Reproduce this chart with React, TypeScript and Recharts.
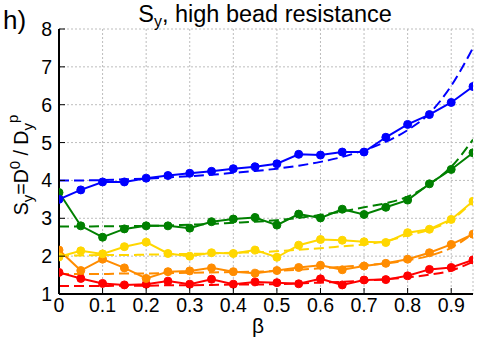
import React from "react";
import { LineChart, Line, XAxis, YAxis, CartesianGrid } from "recharts";

const beta = [0, 0.05, 0.1, 0.15, 0.2, 0.25, 0.3, 0.35, 0.4, 0.45, 0.5, 0.55, 0.6, 0.65, 0.7, 0.75, 0.8, 0.85, 0.9, 0.95];

const blueSim = [3.5, 3.75, 3.96, 3.96, 4.06, 4.13, 4.19, 4.24, 4.31, 4.36, 4.44, 4.69, 4.67, 4.75, 4.75, 5.14, 5.48, 5.74, 6.06, 6.48];
const blueFit = [4.0, 4.0, 4.01, 4.03, 4.05, 4.08, 4.11, 4.15, 4.2, 4.25, 4.31, 4.39, 4.49, 4.62, 4.8, 5.02, 5.33, 5.77, 6.5, 7.5];
const greenSim = [3.68, 2.8, 2.5, 2.72, 2.8, 2.8, 2.74, 2.91, 2.98, 3.02, 2.82, 3.11, 3.01, 3.24, 3.1, 3.29, 3.48, 3.91, 4.29, 4.73];
const greenFit = [2.78, 2.78, 2.79, 2.79, 2.8, 2.81, 2.83, 2.85, 2.88, 2.91, 2.95, 3.01, 3.09, 3.18, 3.29, 3.4, 3.57, 3.9, 4.36, 5.08];
const yellowSim = [1.98, 2.14, 2.06, 2.25, 2.37, 2.07, 2.0, 2.09, 2.07, 2.16, 1.97, 2.29, 2.44, 2.42, 2.38, 2.36, 2.62, 2.71, 2.97, 3.45];
const yellowFit = [2.02, 2.02, 2.03, 2.03, 2.04, 2.05, 2.06, 2.07, 2.09, 2.1, 2.13, 2.17, 2.21, 2.26, 2.31, 2.4, 2.55, 2.7, 2.95, 3.45];
const orangeSim = [2.16, 1.62, 1.92, 1.69, 1.41, 1.59, 1.61, 1.69, 1.59, 1.55, 1.62, 1.7, 1.76, 1.64, 1.74, 1.81, 1.92, 2.09, 2.31, 2.58];
const orangeFit = [1.53, 1.53, 1.53, 1.54, 1.54, 1.55, 1.56, 1.57, 1.58, 1.59, 1.61, 1.64, 1.68, 1.72, 1.76, 1.81, 1.89, 2.01, 2.22, 2.6];
const redSim = [1.57, 1.41, 1.28, 1.24, 1.26, 1.34, 1.26, 1.39, 1.26, 1.32, 1.3, 1.27, 1.4, 1.24, 1.37, 1.38, 1.48, 1.65, 1.7, 1.9];
const redFit = [1.21, 1.21, 1.21, 1.22, 1.22, 1.23, 1.23, 1.24, 1.25, 1.25, 1.26, 1.28, 1.3, 1.32, 1.35, 1.39, 1.44, 1.51, 1.62, 1.85];

const xTicks = [0, 0.1, 0.2, 0.3, 0.4, 0.5, 0.6, 0.7, 0.8, 0.9];
const yTicks = [1, 2, 3, 4, 5, 6, 7, 8];

const series = [
  { key: "red", color: "#ff0000", sim: redSim, fit: redFit },
  { key: "orange", color: "#ff8c00", sim: orangeSim, fit: orangeFit },
  { key: "yellow", color: "#ffd700", sim: yellowSim, fit: yellowFit },
  { key: "green", color: "#008000", sim: greenSim, fit: greenFit },
  { key: "blue", color: "#0000ff", sim: blueSim, fit: blueFit },
];

const data = beta.map((b, i) => {
  const row: any = { beta: b };
  series.forEach((s) => {
    row[s.key + "Sim"] = s.sim[i];
    row[s.key + "Fit"] = s.fit[i];
  });
  return row;
});

const FONT = "'Liberation Sans', Arial, sans-serif";
const TL = 6;

const BottomTick = (p: any) => {
  const { x, y, payload } = p;
  const ay = y - 4;
  return (
    <g>
      <line x1={x} x2={x} y1={ay} y2={ay - TL} stroke="#000" strokeWidth={1} />
      <text x={x} y={y + 14} textAnchor="middle" fontSize={19.5} fontFamily={FONT} fill="#000">
        {payload.value === 0 ? "0" : payload.value.toFixed(1)}
      </text>
    </g>
  );
};

const LeftTick = (p: any) => {
  const { x, y, payload } = p;
  const ax = x + 7;
  return (
    <g>
      <line x1={ax} x2={ax + TL} y1={y} y2={y} stroke="#000" strokeWidth={1} />
      <text x={x} y={y + 7} textAnchor="end" fontSize={19.5} fontFamily={FONT} fill="#000">
        {payload.value}
      </text>
    </g>
  );
};

const RightTick = (p: any) => {
  const { x, y } = p;
  const ax = x - 4;
  return <line x1={ax} x2={ax - TL} y1={y} y2={y} stroke="#000" strokeWidth={1} />;
};

const TopTick = (p: any) => {
  const { x, y } = p;
  const ay = y + 4;
  return <line x1={x} x2={x} y1={ay} y2={ay + TL} stroke="#000" strokeWidth={1} />;
};

export default function App() {
  return (
    <div style={{ position: "absolute", left: 0, top: 0, width: 491, height: 343, background: "#fff" }}>
      <LineChart
        width={491}
        height={343}
        data={data}
        margin={{ top: 29, right: 18, bottom: 19, left: 19 }}
      >
        <CartesianGrid stroke="#bdbdbd" strokeDasharray="2 2" vertical horizontal />
        <XAxis
          dataKey="beta"
          type="number"
          domain={[0, 0.95]}
          ticks={xTicks}
          height={30}
          tickSize={0}
          tickMargin={4}
          tickLine={false}
          axisLine={{ stroke: "#000", strokeWidth: 2 }}
          tick={<BottomTick />}
          interval={0}
          allowDataOverflow
        />
        <XAxis
          xAxisId="top"
          orientation="top"
          dataKey="beta"
          type="number"
          domain={[0, 0.95]}
          ticks={xTicks}
          height={0}
          tickSize={0}
          tickMargin={4}
          tickLine={false}
          axisLine={{ stroke: "#000", strokeWidth: 2 }}
          tick={<TopTick />}
          interval={0}
          allowDataOverflow
        />
        <YAxis
          type="number"
          domain={[1, 8]}
          ticks={yTicks}
          width={40}
          tickSize={0}
          tickMargin={7}
          tickLine={false}
          axisLine={{ stroke: "#000", strokeWidth: 2 }}
          tick={<LeftTick />}
          interval={0}
          allowDataOverflow
        />
        <YAxis
          yAxisId="right"
          orientation="right"
          type="number"
          domain={[1, 8]}
          ticks={yTicks}
          width={0}
          tickSize={0}
          tickMargin={4}
          tickLine={false}
          axisLine={{ stroke: "#000", strokeWidth: 2 }}
          tick={<RightTick />}
          interval={0}
          allowDataOverflow
        />
        {series.map((s) => (
          <Line
            key={s.key + "Fit"}
            dataKey={s.key + "Fit"}
            type="monotone"
            stroke={s.color}
            strokeWidth={2}
            strokeDasharray="10 5"
            dot={false}
            activeDot={false}
            isAnimationActive={false}
          />
        ))}
        {series.map((s) => (
          <Line
            key={s.key + "Sim"}
            dataKey={s.key + "Sim"}
            type="linear"
            stroke={s.color}
            strokeWidth={2}
            dot={{ r: 4, fill: s.color, stroke: s.color, strokeWidth: 1 }}
            activeDot={false}
            isAnimationActive={false}
          />
        ))}
      </LineChart>
      <svg
        width={491}
        height={343}
        style={{ position: "absolute", left: 0, top: 0, pointerEvents: "none" }}
      >
        <text x={3} y={29} fontSize={26} fontFamily={FONT} fill="#000">h)</text>
        <text x={265} y={21.5} textAnchor="middle" fontSize={23.5} fontFamily={FONT} fill="#000">
          S<tspan fontSize={16} dy={5}>y</tspan>
          <tspan dy={-5}>, high bead resistance</tspan>
        </text>
        <text x={258} y={333} textAnchor="middle" fontSize={21} fontFamily={FONT} fill="#000">β</text>
        <text
          transform="rotate(-90)"
          x={-165}
          y={28}
          textAnchor="middle"
          fontSize={19.5}
          fontFamily={FONT}
          fill="#000"
        >
          S<tspan fontSize={15} dy={5}>y</tspan>
          <tspan dy={-5}>=D</tspan>
          <tspan fontSize={15} dy={-8}>0</tspan>
          <tspan dy={8}> / D</tspan>
          <tspan fontSize={15} dy={5}>y</tspan>
          <tspan fontSize={15} dy={-15}>p</tspan>
        </text>
      </svg>
    </div>
  );
}
